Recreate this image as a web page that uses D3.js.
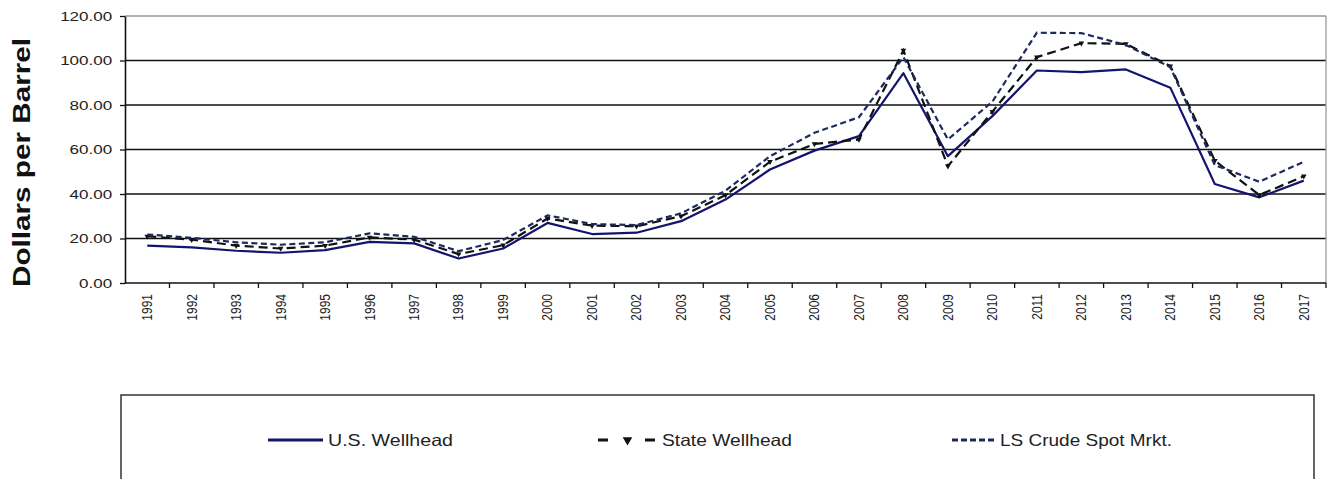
<!DOCTYPE html>
<html>
<head>
<meta charset="utf-8">
<script src="https://cdn.jsdelivr.net/npm/d3@7"></script>
<style>
  html, body { margin: 0; padding: 0; background: #fff; }
  svg { display: block; font-family: "Liberation Sans", Arial, sans-serif; }
</style>
</head>
<body>
<svg id="chart" width="1330" height="479"></svg>
<script>
const years = ["1991","1992","1993","1994","1995","1996","1997","1998","1999","2000",
  "2001","2002","2003","2004","2005","2006","2007","2008","2009","2010",
  "2011","2012","2013","2014","2015","2016","2017"];
const usWellhead = [16.8,16.0,14.5,13.6,14.8,18.5,17.8,11.0,15.5,27.0,
  22.0,22.6,27.8,37.5,51.0,59.5,66.0,94.3,57.0,75.0,
  95.5,94.8,96.0,87.8,44.5,38.5,46.0];
const stateWellhead = [21.0,19.5,16.8,15.5,16.8,20.5,19.5,13.0,17.0,29.0,
  25.8,25.5,30.0,39.5,54.5,62.5,64.5,104.5,52.5,77.0,
  101.5,107.8,107.5,97.5,55.0,39.5,48.0];
const lsCrudeSpot = [21.8,20.3,18.3,17.2,18.3,22.3,20.8,14.3,19.3,30.4,
  26.5,26.0,31.3,41.5,57.0,67.5,74.5,101.5,64.5,81.5,
  112.5,112.3,107.0,97.0,53.0,45.5,54.5];
const yTicks = [0,20,40,60,80,100,120];
const seriesNames = ["U.S. Wellhead","State Wellhead","LS Crude Spot Mrkt."];

(function () {
const svg = d3.select("#chart");
const pL = 125, pR = 1326, pT = 16, pB = 283;

const x = d3.scaleBand().domain(years).range([pL, pR]).padding(0);
const y = d3.scaleLinear().domain([0, 120]).range([pB, pT]);

// gridlines
svg.append("g").selectAll("line").data(yTicks.filter(d => d > 0 && d < 120)).join("line")
  .attr("x1", pL).attr("x2", pR)
  .attr("y1", d => y(d)).attr("y2", d => y(d))
  .attr("stroke", "#111").attr("stroke-width", 1.3);
// plot border top and right (gray)
svg.append("line").attr("x1", pL).attr("x2", pR).attr("y1", y(120)).attr("y2", y(120))
  .attr("stroke", "#999").attr("stroke-width", 1.3);
svg.append("line").attr("x1", pR).attr("x2", pR).attr("y1", y(120)).attr("y2", y(0))
  .attr("stroke", "#999").attr("stroke-width", 1.3);

// y axis
const yAxis = svg.append("g").attr("transform", `translate(${pL},0)`)
  .call(d3.axisLeft(y).tickValues(yTicks).tickFormat(d3.format(".2f")).tickSizeInner(5).tickSizeOuter(0).tickPadding(4.5));
yAxis.select(".domain").attr("stroke", "#111").attr("stroke-width", 1.6);
yAxis.selectAll(".tick line").attr("stroke", "#111").attr("stroke-width", 1.3);
yAxis.selectAll(".tick text")
  .attr("font-size", 12.5).attr("fill", "#222")
  .attr("font-family", "Liberation Sans, Arial, sans-serif")
  .attr("transform", "scale(1.36,1)");

// x axis
const xAxis = svg.append("g").attr("transform", `translate(0,${pB})`);
xAxis.append("line").attr("x1", pL).attr("x2", pR).attr("y1", 0).attr("y2", 0)
  .attr("stroke", "#111").attr("stroke-width", 1.6);
const boundaries = years.map(d => x(d) + x.bandwidth());
xAxis.selectAll("line.tk").data(boundaries).join("line").attr("class", "tk")
  .attr("x1", d => d).attr("x2", d => d).attr("y1", 0).attr("y2", 5)
  .attr("stroke", "#111").attr("stroke-width", 1.3);
xAxis.selectAll("text").data(years).join("text")
  .attr("transform", d => `translate(${x(d) + x.bandwidth() / 2},11) scale(1.16,1) rotate(-90)`)
  .attr("text-anchor", "end").attr("dy", "0.35em")
  .attr("font-size", 12).attr("fill", "#222")
  .text(d => d);

// y title
svg.append("text")
  .attr("transform", "translate(30,162.5) rotate(-90)")
  .attr("text-anchor", "middle")
  .attr("font-size", 24).attr("font-weight", "bold").attr("fill", "#111")
  .attr("textLength", 249).attr("lengthAdjust", "spacingAndGlyphs")
  .text("Dollars per Barrel");

// lines
const lineGen = d3.line().x((d, i) => x(years[i]) + x.bandwidth() / 2).y(d => y(d));
svg.append("path").datum(usWellhead).attr("d", lineGen)
  .attr("fill", "none").attr("stroke", "#14146e").attr("stroke-width", 2.2).attr("stroke-linejoin", "round");
svg.append("path").datum(stateWellhead).attr("d", lineGen)
  .attr("fill", "none").attr("stroke", "#111").attr("stroke-width", 2.2).attr("stroke-dasharray", "9,5");
const tri = d3.symbol().type(d3.symbolTriangle).size(14);
svg.append("g").selectAll("path").data(stateWellhead).join("path")
  .attr("d", tri)
  .attr("transform", (d, i) => `translate(${x(years[i]) + x.bandwidth() / 2},${y(d)}) rotate(180)`)
  .attr("fill", "#111");
svg.append("path").datum(lsCrudeSpot).attr("d", lineGen)
  .attr("fill", "none").attr("stroke", "#1d2a5e").attr("stroke-width", 2.2).attr("stroke-dasharray", "6,3.5");

// legend
svg.append("rect").attr("x", 121).attr("y", 395).attr("width", 1193).attr("height", 120)
  .attr("fill", "#fff").attr("stroke", "#333").attr("stroke-width", 1.5);
const ly = 440;
svg.append("line").attr("x1", 268).attr("x2", 323).attr("y1", ly).attr("y2", ly)
  .attr("stroke", "#14146e").attr("stroke-width", 3);
svg.append("line").attr("x1", 598).attr("x2", 655).attr("y1", ly).attr("y2", ly)
  .attr("stroke", "#111").attr("stroke-width", 3).attr("stroke-dasharray", "10,37,10");
svg.append("path").attr("d", d3.symbol().type(d3.symbolTriangle).size(40))
  .attr("transform", `translate(627.5,${ly}) rotate(180)`).attr("fill", "#111");
svg.append("line").attr("x1", 952).attr("x2", 996).attr("y1", ly).attr("y2", ly)
  .attr("stroke", "#1d2a5e").attr("stroke-width", 3).attr("stroke-dasharray", "6,3");
const legendText = [[328, 125], [662, 130], [1000, 172]];
svg.append("g").selectAll("text").data(seriesNames).join("text")
  .attr("x", (d, i) => legendText[i][0]).attr("y", ly + 6)
  .attr("font-size", 16.5).attr("fill", "#222")
  .attr("textLength", (d, i) => legendText[i][1]).attr("lengthAdjust", "spacingAndGlyphs")
  .text(d => d);
})();
</script>
</body>
</html>
